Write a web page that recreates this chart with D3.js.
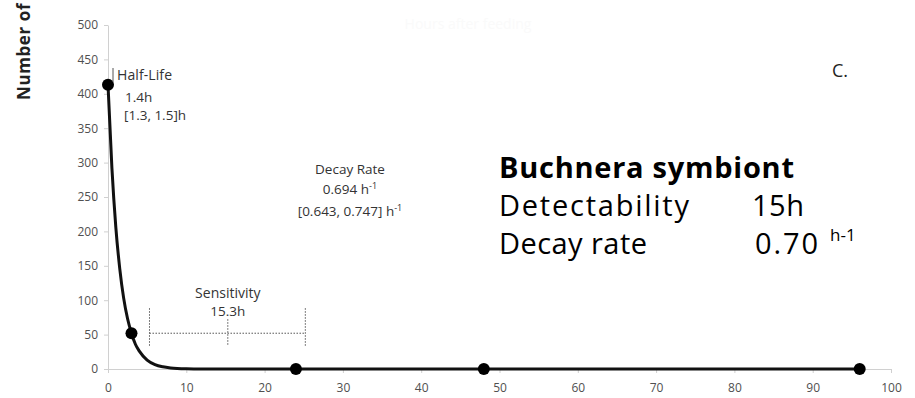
<!DOCTYPE html>
<html><head><meta charset="utf-8">
<script src="https://cdn.jsdelivr.net/npm/d3@7"></script>
<style>body{margin:0;background:#fff}svg{display:block}</style>
</head><body>
<svg id="c" width="915" height="398"></svg>
<script>
// observed points
const hours = [0, 3, 24, 48, 96];
const counts = [413, 52, 0, 0, 0];
// fitted decay curve
const curveHours = [0, 0.5, 1, 1.5, 2, 2.5, 3, 3.5, 4, 5, 6, 7, 8, 10, 12, 20, 96];
const curveCounts = [413, 292, 206, 146, 103, 73, 52, 36, 26, 13, 6.4, 3.2, 1.6, 0.4, 0.1, 0, 0];
const xTicks = [0,10,20,30,40,50,60,70,80,90,100];
const yTicks = [0,50,100,150,200,250,300,350,400,450,500];
const sensitivity = {lo: 5.3, mid: 15.3, hi: 25.2, level: 52};

const svg = d3.select("#c");
const x = d3.scaleLinear().domain([0,100]).range([108, 891]);
const y = d3.scaleLinear().domain([0,500]).range([369, 25]);
const font = "Open Sans, sans-serif";

// faint title
svg.append("text").attr("x", 468).attr("y", 29).attr("text-anchor","middle")
  .attr("font-family", font).attr("font-size", 14).attr("fill","#fafafa").text("Hours after feeding");

const gx = svg.append("g").attr("transform", `translate(0,${y(0)})`)
  .call(d3.axisBottom(x).tickValues(xTicks).tickSize(4).tickSizeOuter(0));
const gy = svg.append("g").attr("transform", `translate(${x(0)},0)`)
  .call(d3.axisLeft(y).tickValues(yTicks).tickSize(4).tickSizeOuter(0));
[gx, gy].forEach(g => {
  g.selectAll("path,line").attr("stroke", "#d0d0d0");
  g.selectAll("text").attr("font-family", font).attr("font-size", 12).attr("fill", "#505050");
});
gx.selectAll("text").attr("dy", "1.3em");
gy.selectAll("text").attr("x", -10);

// y label (clipped at top)
svg.append("text").attr("transform", "translate(30,100) rotate(-90)")
  .attr("font-family", font).attr("font-weight","bold").attr("font-size", 17)
  .attr("letter-spacing", 0.6).attr("fill","#222").text("Number of cells");

// fitted curve
const curveData = curveHours.map((h,i)=>[h, curveCounts[i]]);
svg.append("path").datum(curveData)
  .attr("d", d3.line().x(d=>x(d[0])).y(d=>y(d[1])).curve(d3.curveMonotoneX))
  .attr("fill","none").attr("stroke","#111").attr("stroke-width", 3);

// points
svg.selectAll("circle.pt").data(hours.map((h,i)=>[h,counts[i]])).join("circle")
  .attr("class","pt").attr("cx", d=>x(d[0])).attr("cy", d=>y(d[1])).attr("r", 6).attr("fill","#000");

// sensitivity bar
const sb = svg.append("g").attr("stroke","#555").attr("stroke-width",1).attr("stroke-dasharray","1.5,1.5");
sb.append("line").attr("x1", x(sensitivity.lo)).attr("x2", x(sensitivity.hi))
  .attr("y1", y(sensitivity.level)).attr("y2", y(sensitivity.level));
[sensitivity.lo, sensitivity.hi].forEach(v => sb.append("line").attr("x1", x(v)).attr("x2", x(v))
  .attr("y1", y(sensitivity.level)-25).attr("y2", y(sensitivity.level)+14));
sb.append("line").attr("x1", x(sensitivity.mid)).attr("x2", x(sensitivity.mid))
  .attr("y1", y(sensitivity.level)-14).attr("y2", y(sensitivity.level)+12);

const ann = (tx, ty, str, anchor="start", size=13.5) => svg.append("text").attr("x", tx).attr("y", ty)
  .attr("text-anchor", anchor).attr("font-family", font).attr("font-size", size)
  .attr("fill","#333").text(str);

ann(x(sensitivity.mid), 298, "Sensitivity", "middle", 14);
ann(x(sensitivity.mid), 316, "15.3h", "middle", 13.5);

// half-life
svg.append("line").attr("x1",113).attr("x2",113).attr("y1",68).attr("y2",82).attr("stroke","#555");
ann(117, 80, "Half-Life", "start", 14).attr("textLength", 55).attr("lengthAdjust","spacing");
ann(125, 102, "1.4h");
ann(124, 120, "[1.3, 1.5]h");

// decay rate
ann(350, 174, "Decay Rate", "middle");
const t2 = ann(350, 194, "0.694 h", "middle");
t2.append("tspan").attr("dy",-5).attr("font-size",9).text("-1");
const t3 = ann(350, 216, "[0.643, 0.747] h", "middle");
t3.append("tspan").attr("dy",-5).attr("font-size",9).text("-1");

// C.
ann(832, 77, "C.", "start", 18).attr("fill","#222");

// Buchnera box
const bt = (tx, ty, str, len, bold, size=29) => {
  const t = svg.append("text").attr("x",tx).attr("y",ty)
    .attr("font-family",font).attr("font-weight", bold ? "bold" : "normal")
    .attr("font-size",size).attr("fill","#000").text(str);
  if (len) t.attr("textLength", len).attr("lengthAdjust","spacing");
  return t;
};
bt(499, 178, "Buchnera symbiont", 295, true);
bt(499, 216, "Detectability", 190);
bt(752, 216, "15h", 52);
bt(499, 254, "Decay rate", 148);
bt(755, 254, "0.70", 63);
bt(830, 241, "h-1", 0, false, 17);
</script>
</body></html>
